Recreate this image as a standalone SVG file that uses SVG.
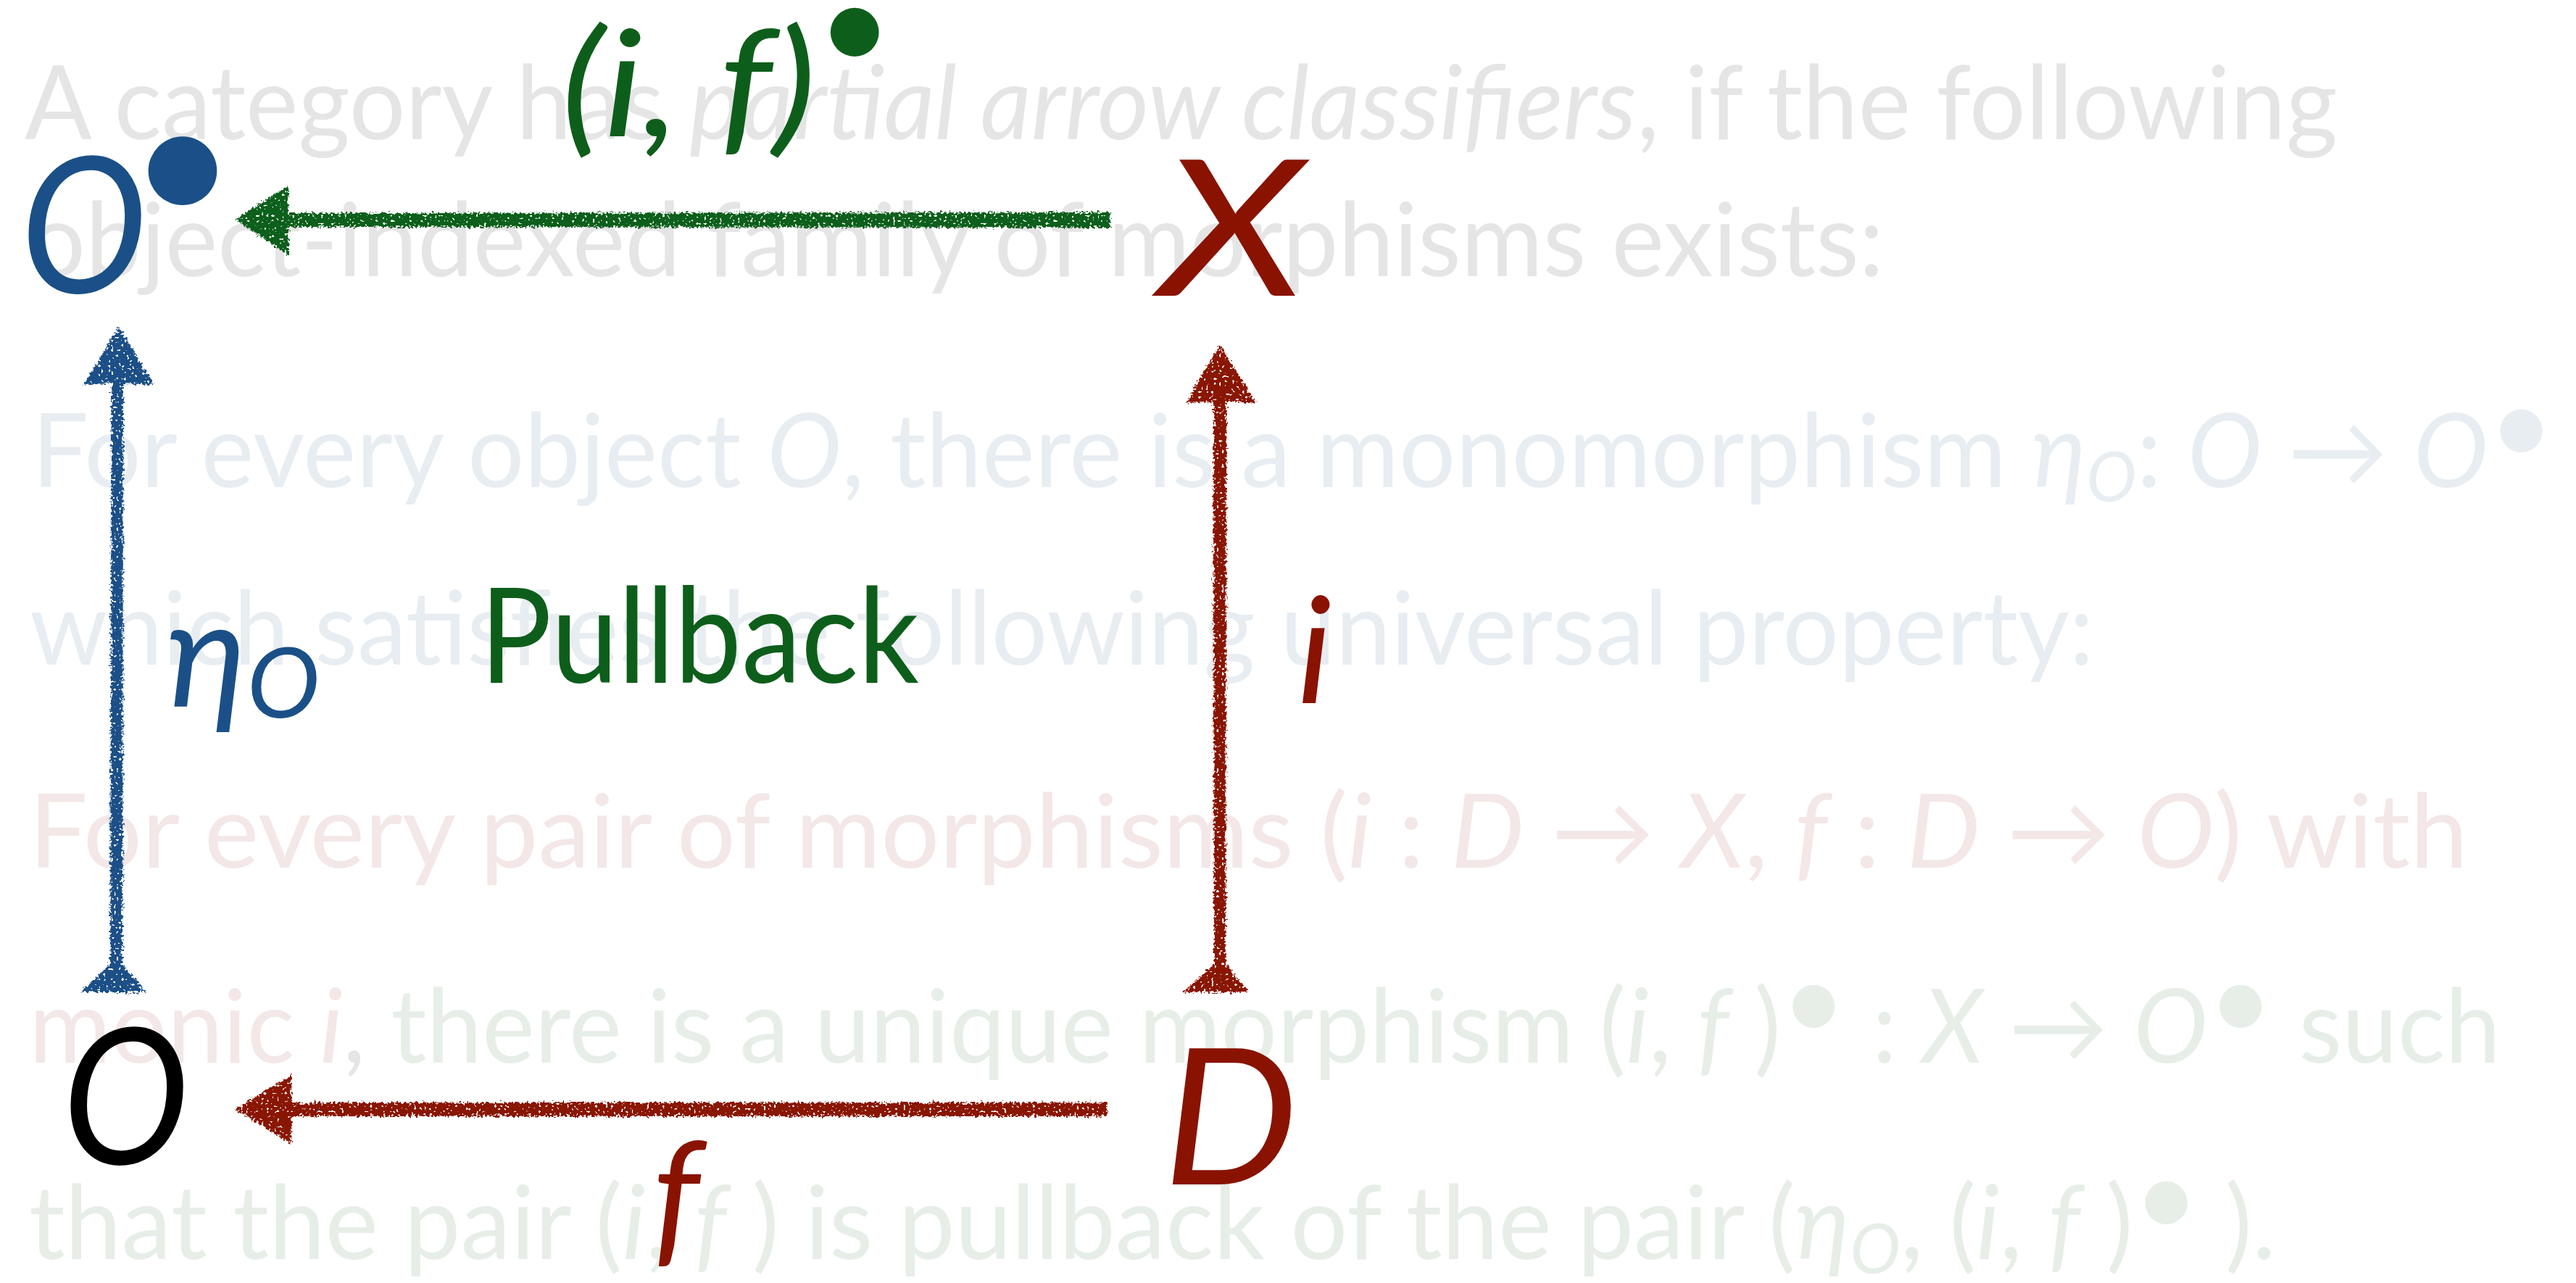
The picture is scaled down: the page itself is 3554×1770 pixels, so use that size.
<svg xmlns="http://www.w3.org/2000/svg" width="3554" height="1770" viewBox="0 0 3554 1770">
<style>
.bg{font-family:Lato,"Noto Sans","DejaVu Sans",sans-serif;font-size:141px}
.it{font-style:italic}
.c1{fill:#e5e5e5}
.c2{fill:#e8edf2}
.c3{fill:#f3e7e7}
.c4{fill:#e7eee8}
.node{font-family:Lato,"Noto Sans","DejaVu Sans",sans-serif;font-style:italic;font-size:262px}
.lbl{font-family:Lato,"Noto Sans","DejaVu Sans",sans-serif;font-style:italic;font-size:205px}
.dot{font-family:Lato,"Noto Sans",sans-serif;font-style:normal}
.blue{fill:#1a5087}
.red{fill:#891300}
.green{fill:#0e5e1b}
.blk{fill:#000}
</style>
<defs>
<filter id="rough" x="-30%" y="-30%" width="160%" height="160%">
<feTurbulence type="fractalNoise" baseFrequency="0.3" numOctaves="2" seed="4" result="n"/>
<feDisplacementMap in="SourceGraphic" in2="n" scale="10" xChannelSelector="R" yChannelSelector="G" result="d"/>
<feTurbulence type="fractalNoise" baseFrequency="0.28" numOctaves="1" seed="9" result="n2"/>
<feColorMatrix in="n2" type="matrix" values="0 0 0 0 0  0 0 0 0 0  0 0 0 0 0  0 0 0 -20 13.8" result="holes"/>
<feComposite in="d" in2="holes" operator="in"/>
</filter>
</defs>
<rect width="3554" height="1770" fill="#fff"/>
<g id="background-text" class="bg">
<text x="34" y="192" class="c1" textLength="3191" lengthAdjust="spacingAndGlyphs">A category has <tspan class="it">partial arrow classifiers</tspan>, if the following</text>
<text x="40" y="381" class="c1" textLength="2559" lengthAdjust="spacingAndGlyphs">object-indexed family of morphisms exists:</text>
<text x="44" y="672" class="c2" textLength="3480" lengthAdjust="spacingAndGlyphs">For every object <tspan class="it">O</tspan>, there is a monomorphism <tspan class="it">η</tspan><tspan class="it" font-size="95" dy="20">O</tspan><tspan dy="-20">: </tspan><tspan class="it">O</tspan> → <tspan class="it">O</tspan><tspan dy="-30" font-size="160">•</tspan></text>
<text x="41" y="917" class="c2" textLength="2848" lengthAdjust="spacingAndGlyphs">which satisfies the following universal property:</text>
<text x="40" y="1197" class="c3" textLength="3365" lengthAdjust="spacingAndGlyphs">For every pair of morphisms (<tspan class="it">i</tspan> : <tspan class="it">D</tspan> → <tspan class="it">X</tspan>, <tspan class="it">f</tspan> : <tspan class="it">D</tspan> → <tspan class="it">O</tspan>) with</text>
<text x="40" y="1466" class="c4" textLength="3410" lengthAdjust="spacingAndGlyphs"><tspan class="c3">monic </tspan><tspan class="c3 it">i</tspan><tspan class="c1">,</tspan> there is a unique morphism (<tspan class="it">i</tspan>, <tspan class="it">f</tspan> )<tspan dy="-30" font-size="160">•</tspan><tspan dy="30"> : </tspan><tspan class="it">X</tspan> → <tspan class="it">O</tspan><tspan dy="-30" font-size="160">•</tspan><tspan dy="30"> such</tspan></text>
<text x="40" y="1737" class="c4" textLength="3100" lengthAdjust="spacingAndGlyphs">that the pair (<tspan class="it">i</tspan>, <tspan class="it">f</tspan> ) is pullback of the pair (<tspan class="it">η</tspan><tspan class="it" font-size="95" dy="20">O</tspan><tspan dy="-20">, (</tspan><tspan class="it">i</tspan>, <tspan class="it">f</tspan> )<tspan dy="-30" font-size="160">•</tspan><tspan dy="30"> ).</tspan></text>
</g>
<g id="connectors">
<g id="edge-X-Obullet">
<path class="green" filter="url(#rough)" d="M1532,293 L398,294 L398,256 L324,303 L398,352 L398,313 L1532,314 Z"/>
<text class="lbl green" x="774" y="188" font-size="235" textLength="352" lengthAdjust="spacingAndGlyphs">(i, f)</text>
<text class="dot green" x="1127" y="98" font-size="180">•</text>
</g>
<g id="edge-D-O">
<path class="red" filter="url(#rough)" d="M1527,1521 L402,1521 L402,1483 L324,1530 L402,1578 L402,1540 L1527,1540 Z"/>
<text class="lbl red" x="900" y="1722">f</text>
</g>
<g id="edge-O-Obullet">
<path class="blue" filter="url(#rough)" d="M164,451 L213,531 L170,529 L169,1330 L202,1369 L111,1369 L152,1330 L154,529 L115,531 Z"/>
<text class="lbl blue" x="230" y="975" font-family="'Noto Sans',Lato,sans-serif">η<tspan font-size="135" dy="15">O</tspan></text>
</g>
<g id="edge-D-X">
<path class="red" filter="url(#rough)" d="M1683,476 L1733,556 L1692,554 L1691,1330 L1723,1369 L1632,1369 L1675,1330 L1674,554 L1636,556 Z"/>
<text class="lbl red" x="1790" y="970">i</text>
</g>
</g>
<g id="pullback-label">
<text x="662" y="942" class="green" font-family="Lato,'Noto Sans',sans-serif" font-size="182" textLength="606" lengthAdjust="spacingAndGlyphs">Pullback</text>
</g>
<g id="node-Obullet">
<text class="node blue" x="28" y="404" textLength="175" lengthAdjust="spacingAndGlyphs">O</text>
<text class="dot blue" x="178" y="312" font-size="255">•</text>
</g>
<g id="node-X">
<text class="node red" x="1600" y="408" textLength="200" lengthAdjust="spacingAndGlyphs">X</text>
</g>
<g id="node-O">
<text class="node blk" x="86" y="1606" textLength="175" lengthAdjust="spacingAndGlyphs">O</text>
</g>
<g id="node-D">
<text class="node red" x="1605" y="1634">D</text>
</g>
</svg>
